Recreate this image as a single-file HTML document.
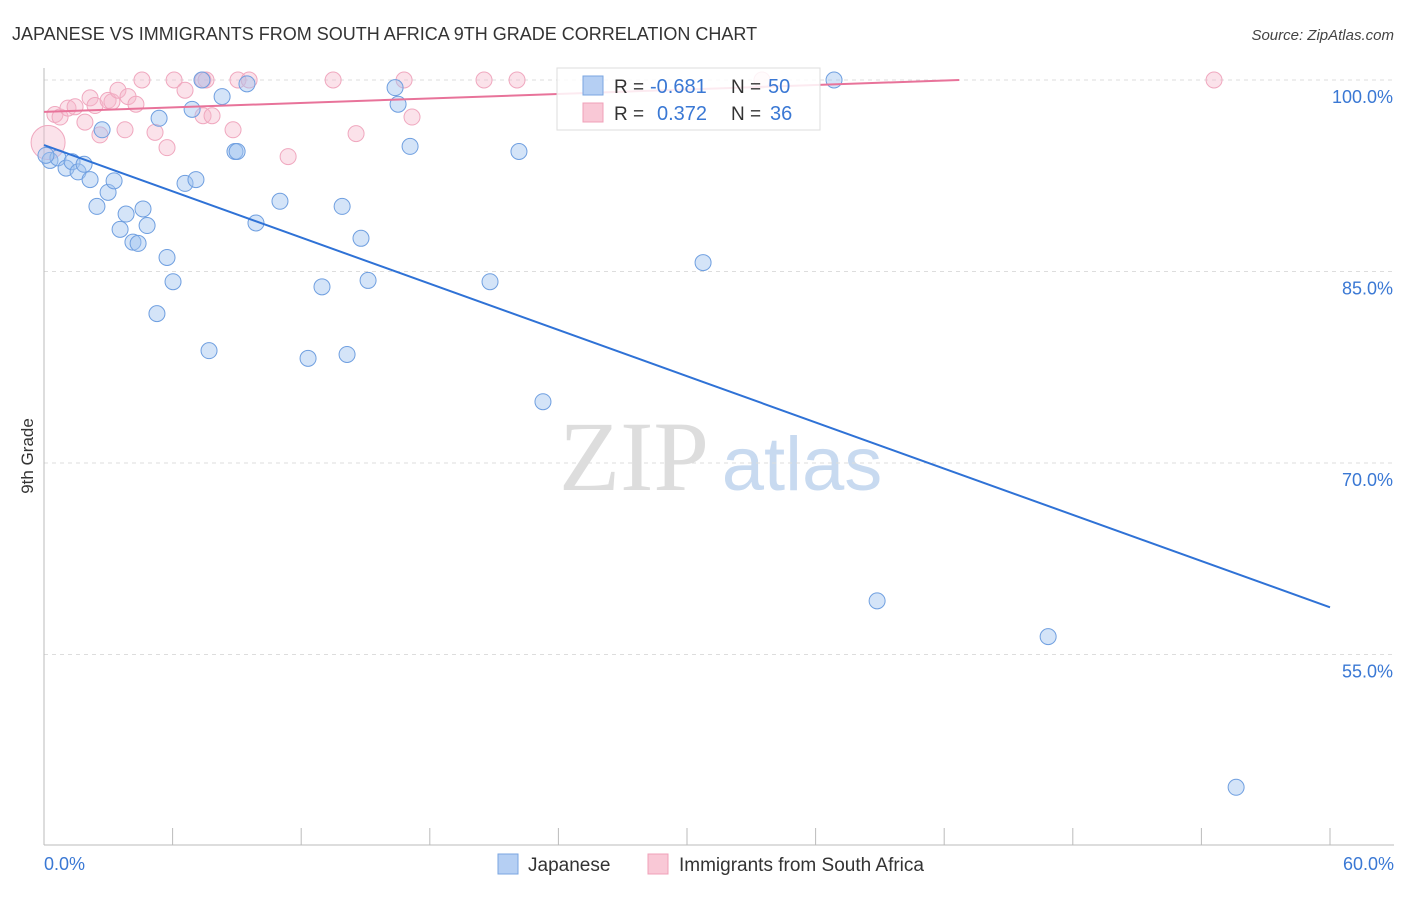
<!DOCTYPE html>
<html><head><meta charset="utf-8"><style>
body{margin:0;background:#fff;font-family:"Liberation Sans",sans-serif;}
</style></head><body>
<svg id="chart" width="1406" height="892" xmlns="http://www.w3.org/2000/svg" font-family="Liberation Sans, sans-serif">
<text x="12" y="40" font-size="18" fill="#333">JAPANESE VS IMMIGRANTS FROM SOUTH AFRICA 9TH GRADE CORRELATION CHART</text>
<text x="1394" y="40" font-size="15" fill="#444" text-anchor="end" font-style="italic">Source: ZipAtlas.com</text>
<g>
<text x="634" y="490" font-size="100" fill="#ddd" text-anchor="middle" style="font-family:'Liberation Serif',serif">ZIP</text>
<text x="802" y="490" font-size="76" fill="#c8daf0" text-anchor="middle">atlas</text>
</g>
<g id="grid"></g><g id="axes"></g><g id="marks"></g>
<text transform="translate(33,456) rotate(-90)" font-size="17" fill="#333" text-anchor="middle">9th Grade</text>
<g>
<rect x="557" y="68" width="263" height="62" fill="rgba(255,255,255,0.85)" stroke="#ddd"/>
<rect x="583" y="76" width="20" height="19" fill="#b5cff3" stroke="#7aa6e0"/>
<text x="614" y="93" font-size="19" fill="#333">R =</text>
<text x="650" y="93" font-size="20" fill="#3a78d4">-0.681</text>
<text x="731" y="93" font-size="19" fill="#333">N =</text>
<text x="768" y="93" font-size="20" fill="#3a78d4">50</text>
<rect x="583" y="103" width="20" height="19" fill="#f9c8d6" stroke="#f0a0b8"/>
<text x="614" y="120" font-size="19" fill="#333">R =</text>
<text x="657" y="120" font-size="20" fill="#3a78d4">0.372</text>
<text x="731" y="120" font-size="19" fill="#333">N =</text>
<text x="770" y="120" font-size="20" fill="#3a78d4">36</text>
</g>
<g>
<rect x="498" y="854" width="20" height="20" fill="#b5cff3" stroke="#7aa6e0"/>
<text x="528" y="871" font-size="19" fill="#333">Japanese</text>
<rect x="648" y="854" width="20" height="20" fill="#f9c8d6" stroke="#f0a0b8"/>
<text x="679" y="871" font-size="19" fill="#333">Immigrants from South Africa</text>
</g>
</svg>
<script>
const jpX=[0.28,0.65,1.03,1.31,1.59,1.87,2.15,2.47,2.71,2.99,3.27,3.55,3.83,4.15,4.39,4.62,4.81,5.27,5.37,5.74,6.02,6.58,6.91,7.09,7.37,7.70,8.31,8.91,9.01,9.47,9.89,11.01,12.32,12.97,13.91,14.14,14.79,15.12,16.38,16.52,17.08,20.81,22.16,23.28,30.75,36.86,38.87,46.85,55.62,0.09];
const jpY=[93.7,93.9,93.1,93.6,92.8,93.4,92.2,90.1,96.1,91.2,92.1,88.3,89.5,87.3,87.2,89.9,88.6,81.7,97.0,86.1,84.2,91.9,97.7,92.2,100,78.8,98.7,94.4,94.4,99.7,88.8,90.5,78.2,83.8,90.1,78.5,87.6,84.3,99.4,98.1,94.8,84.2,94.4,74.8,85.7,100,59.2,56.4,44.6,94.1];
const saX=[0.19,0.51,0.75,1.12,1.45,1.91,2.15,2.38,2.61,2.99,3.17,3.45,3.78,3.92,4.29,4.57,5.18,5.74,6.07,6.58,7.42,7.56,7.42,7.84,8.82,9.05,9.57,11.39,13.49,14.56,16.80,17.17,20.53,22.07,33.50,54.59];
const saY=[95.1,97.3,97.1,97.8,97.9,96.7,98.6,98.0,95.7,98.4,98.3,99.2,96.1,98.7,98.1,100,95.9,94.7,100,99.2,100,100,97.2,97.2,96.1,100,100,94.0,100,95.8,100,97.1,100,100,100,100];
const jpTrend=[[0,94.9],[60,58.7]];
const saTrend=[[0,97.5],[42.7,100]];
const yTicks=[100,85,70,55];
const xTickVals=[0,6,12,18,24,30,36,42,48,54,60];
const NS="http://www.w3.org/2000/svg";
const sx=v=>44+v*(1286/60);
const sy=v=>80+(100-v)*(191.5/15);
function mk(tag,attrs,parent){const e=document.createElementNS(NS,tag);for(const k in attrs)e.setAttribute(k,attrs[k]);document.getElementById(parent).appendChild(e);return e;}
yTicks.forEach(t=>{
 const g=mk('line',{x1:44,x2:1394,y1:sy(t),y2:sy(t),stroke:'#ddd','stroke-dasharray':'4,4'},'grid');
 
 
 const l=mk('text',{x:1393,y:sy(t)+23,'font-size':18,fill:'#3a78d4','text-anchor':'end'},'axes');
 l.textContent=t.toFixed(1)+'%';
 
 
});
let a=mk('line',{x1:44,x2:44,y1:68,y2:845,stroke:'#bbb'},'axes');


a=mk('line',{x1:44,x2:1394,y1:845,y2:845,stroke:'#bbb'},'axes');


xTickVals.forEach(t=>{
 const e=mk('line',{x1:sx(t),x2:sx(t),y1:828,y2:845,stroke:'#bbb'},'axes');
 
 
});
let xl=mk('text',{x:44,y:870,'font-size':18,fill:'#3a78d4'},'axes');xl.textContent='0.0%';


xl=mk('text',{x:1394,y:870,'font-size':18,fill:'#3a78d4','text-anchor':'end'},'axes');xl.textContent='60.0%';


saX.forEach((x,i)=>{
 const c=mk('circle',{cx:sx(x),cy:sy(saY[i]),r:i===0?17:8,fill:'rgba(246,182,202,0.4)',stroke:'#f0a8bf','stroke-width':1},'marks');
 
 
});
jpX.forEach((x,i)=>{
 const c=mk('circle',{cx:sx(x),cy:sy(jpY[i]),r:8,fill:'rgba(160,196,240,0.45)',stroke:'#6f9fe0','stroke-width':1},'marks');
 
 
});
let tl=mk('line',{x1:sx(jpTrend[0][0]),y1:sy(jpTrend[0][1]),x2:sx(jpTrend[1][0]),y2:sy(jpTrend[1][1]),stroke:'#2f72d6','stroke-width':2},'marks');


tl=mk('line',{x1:sx(saTrend[0][0]),y1:sy(saTrend[0][1]),x2:sx(saTrend[1][0]),y2:sy(saTrend[1][1]),stroke:'#e8739a','stroke-width':2},'marks');


</script>
</body></html>
